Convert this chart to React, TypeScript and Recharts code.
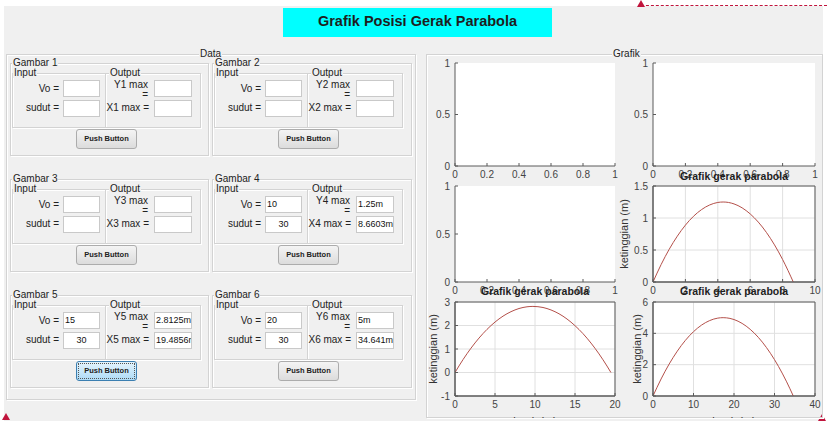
import React from 'react';
import { LineChart, Line, XAxis, YAxis, CartesianGrid, ReferenceArea } from 'recharts';

// ---------- data ----------
const gambarNames = ['Gambar 1', 'Gambar 2', 'Gambar 3', 'Gambar 4', 'Gambar 5', 'Gambar 6'];
const outYLabels = ['Y1 max', 'Y2 max', 'Y3 max', 'Y4 max', 'Y5 max', 'Y6 max'];
const outXLabels = ['X1 max =', 'X2 max =', 'X3 max =', 'X4 max =', 'X5 max =', 'X6 max ='];
const voValues = ['', '', '', '10', '15', '20'];
const sudutValues = ['', '', '', '30', '30', '30'];
const yMaxValues = ['', '', '', '1.25m', '2.8125m', '5m'];
const xMaxValues = ['', '', '', '8.6603m', '19.4856m', '34.641m'];

const emptyXTicks = [0, 0.2, 0.4, 0.6, 0.8, 1];
const emptyYTicks = [0, 0.5, 1];

const traj4X = [0, 0.5, 1, 1.5, 2, 2.5, 3, 3.5, 4, 4.33, 5, 5.5, 6, 6.5, 7, 7.5, 8, 8.66];
const traj4Y = [0, 0.272, 0.511, 0.716, 0.888, 1.027, 1.132, 1.204, 1.243, 1.25, 1.22, 1.159, 1.064, 0.936, 0.775, 0.58, 0.352, 0];
const plot4XTicks = [0, 2, 4, 6, 8, 10];
const plot4YTicks = [0, 0.5, 1, 1.5];

const traj5X = [0, 1, 2, 3, 4, 5, 6, 7, 8, 9, 9.74, 11, 12, 13, 14, 15, 16, 17, 18, 19, 19.49];
const traj5Y = [0, 0.548, 1.036, 1.465, 1.835, 2.146, 2.398, 2.589, 2.723, 2.796, 2.812, 2.766, 2.661, 2.499, 2.276, 1.993, 1.653, 1.252, 0.792, 0.274, 0];
const plot5XTicks = [0, 5, 10, 15, 20];
const plot5YTicks = [-1, 0, 1, 2, 3];

const traj6X = [0, 2, 4, 6, 8, 10, 12, 14, 16, 17.32, 19, 21, 23, 25, 27, 29, 31, 33, 34.64];
const traj6Y = [0, 1.088, 2.043, 2.864, 3.552, 4.107, 4.528, 4.816, 4.971, 5, 4.953, 4.774, 4.462, 4.017, 3.438, 2.726, 1.881, 0.903, 0];
const plot6XTicks = [0, 10, 20, 30, 40];
const plot6YTicks = [0, 2, 4, 6];

// ---------- styles ----------
const FONT = '"Liberation Sans", Arial, sans-serif';
const BG = '#f0f0f0';
const etched: React.CSSProperties = {
  position: 'absolute',
  border: '1px solid #d3d3d3',
  boxShadow: 'inset 1px 1px 0 #ffffff, 1px 1px 0 #ffffff',
  boxSizing: 'border-box',
};
const legendLabel: React.CSSProperties = {
  position: 'absolute',
  background: BG,
  fontSize: 10,
  lineHeight: '11px',
  color: '#222',
  padding: '0 1px',
  whiteSpace: 'nowrap',
};
const editBox: React.CSSProperties = {
  position: 'absolute',
  background: '#fff',
  border: '1px solid #c9c9c9',
  boxSizing: 'border-box',
  fontSize: 9,
  lineHeight: '15px',
  color: '#111',
  paddingLeft: 1,
  overflow: 'hidden',
  whiteSpace: 'nowrap',
};

function Group({ idx, gx, gy }: { idx: number; gx: number; gy: number }) {
  const w = idx % 2 === 0 ? 199 : 200;
  const focused = idx === 4;
  return (
    <div style={{ position: 'absolute', left: gx, top: gy, width: w, height: 93 }}>
      <div style={{ ...etched, left: 0, top: 0, width: w, height: 93 }} />
      <div style={{ ...legendLabel, left: 2, top: -6 }}>{gambarNames[idx]}</div>
      <div style={{ ...etched, left: 2, top: 10, width: 94, height: 55 }} />
      <div style={{ ...etched, left: 95, top: 10, width: 96, height: 55 }} />
      <div style={{ ...legendLabel, left: 3, top: 4 }}>Input</div>
      <div style={{ ...legendLabel, left: 99, top: 4 }}>Output</div>
      <div style={{ position: 'absolute', left: 0, width: 49, top: 20, textAlign: 'right', fontSize: 10, lineHeight: '12px', color: '#222' }}>Vo =</div>
      <div style={{ position: 'absolute', left: 0, width: 49, top: 39, textAlign: 'right', fontSize: 10, lineHeight: '12px', color: '#222' }}>sudut =</div>
      <div style={{ ...editBox, left: 53, top: 17, width: 37, height: 17 }}>{voValues[idx]}</div>
      <div style={{ ...editBox, left: 53, top: 37, width: 37, height: 17, textAlign: 'center', paddingLeft: 0 }}>{sudutValues[idx]}</div>
      <div style={{ position: 'absolute', left: 96, width: 42, top: 16, textAlign: 'right', fontSize: 10, color: '#222' }}>
        <div style={{ height: 11, lineHeight: '11px' }}>{outYLabels[idx]}</div>
        <div style={{ height: 9, lineHeight: '10px' }}>=</div>
      </div>
      <div style={{ position: 'absolute', left: 96, width: 43, top: 39, textAlign: 'right', fontSize: 10, lineHeight: '12px', color: '#222', whiteSpace: 'nowrap' }}>{outXLabels[idx]}</div>
      <div style={{ ...editBox, left: 144, top: 17, width: 38, height: 17 }}>{yMaxValues[idx]}</div>
      <div style={{ ...editBox, left: 144, top: 37, width: 38, height: 17 }}>{xMaxValues[idx]}</div>
      <div
        style={{
          position: 'absolute', left: 66, top: 66, width: 61, height: 20, boxSizing: 'border-box',
          border: focused ? '1px solid #3c7fb1' : '1px solid #acacac', borderRadius: 3,
          background: focused ? 'linear-gradient(#e4f4fd, #aedbf6)' : 'linear-gradient(#f4f4f4, #dcdcdc)',
          fontSize: 7.5, fontWeight: 'bold', color: '#222', textAlign: 'center', lineHeight: '18px',
        }}
      >
        {focused && (
          <div style={{ position: 'absolute', left: 1, top: 1, right: 1, bottom: 1, border: '1px dotted #555' }} />
        )}
        Push Button
      </div>
    </div>
  );
}

type PlotProps = {
  left: number; top: number; w: number; h: number;
  xDomain: number[]; xTicks: number[]; yDomain: number[]; yTicks: number[];
  xs?: number[]; ys?: number[]; grid?: boolean; box?: boolean;
};

function Plot({ left, top, w, h, xDomain, xTicks, yDomain, yTicks, xs, ys, grid, box }: PlotProps) {
  const data = xs && ys ? xs.map((x, i) => ({ x, y: ys[i] })) : [];
  const ML = 34, MT = 4, MR = 10, MB = 18;
  const axisColor = '#5a5a5a';
  return (
    <div style={{ position: 'absolute', left: left - ML, top: top - MT }}>
      <LineChart width={w + ML + MR} height={h + MT + MB} data={data} margin={{ top: MT, right: MR, bottom: 0, left: 0 }}>
        <CartesianGrid fill="#ffffff" horizontal={!!grid} vertical={!!grid} stroke="#e0e0e0" strokeWidth={1} />
        <XAxis
          dataKey="x" type="number" domain={xDomain} ticks={xTicks} interval={0} allowDataOverflow
          height={MB} tickSize={-3} tickMargin={8} stroke={axisColor}
          tick={{ fontSize: 10, fill: '#444', fontFamily: FONT }}
        />
        <YAxis
          type="number" domain={yDomain} ticks={yTicks} interval={0} allowDataOverflow
          width={ML} tickSize={-3} tickMargin={8} stroke={axisColor}
          tick={{ fontSize: 10, fill: '#444', fontFamily: FONT }}
        />
        {box && (
          <ReferenceArea x1={xDomain[0]} x2={xDomain[1]} y1={yDomain[0]} y2={yDomain[1]} fill="none" stroke={axisColor} strokeWidth={1} fillOpacity={0} />
        )}
        {data.length > 0 && (
          <Line dataKey="y" type="monotone" stroke="#b4504a" strokeWidth={1} dot={false} isAnimationActive={false} />
        )}
      </LineChart>
    </div>
  );
}

function Title({ cx, y }: { cx: number; y: number }) {
  return (
    <div style={{ position: 'absolute', left: cx - 70, width: 140, top: y - 7, textAlign: 'center', fontSize: 10.5, fontWeight: 'bold', color: '#1e1e1e', lineHeight: '13px', whiteSpace: 'nowrap' }}>
      Grafik gerak parabola
    </div>
  );
}

function YLabel({ cx, cy }: { cx: number; cy: number }) {
  return (
    <div style={{ position: 'absolute', left: cx - 40, top: cy - 7, width: 80, height: 14, textAlign: 'center', fontSize: 11, lineHeight: '14px', color: '#333', transform: 'rotate(-90deg)', whiteSpace: 'nowrap' }}>
      ketinggian (m)
    </div>
  );
}

function Triangle({ x, y }: { x: number; y: number }) {
  return (
    <svg style={{ position: 'absolute', left: x, top: y }} width={8} height={7}>
      <polygon points="4,0 8,7 0,7" fill="#c0143c" />
    </svg>
  );
}

export default function App() {
  const groupPos = [
    [10, 63], [212, 63], [10, 179], [212, 179], [10, 295], [212, 295],
  ];
  return (
    <div style={{ position: 'absolute', left: 0, top: 0, width: 827, height: 421, background: '#fff', overflow: 'hidden', fontFamily: FONT }}>
      <div style={{ position: 'absolute', left: 4, top: 6, width: 819, height: 415, background: BG }} />
      {/* red dashed line */}
      <div style={{ position: 'absolute', left: 641, top: 5, width: 186, height: 0, borderTop: '1px dashed #c0143c' }} />
      <Triangle x={637} y={0} />
      <Triangle x={2} y={413} />
      <Triangle x={818} y={414} />

      {/* title */}
      <div style={{ position: 'absolute', left: 283, top: 8, width: 269, height: 29, background: '#00ffff', textAlign: 'center', fontSize: 14.5, fontWeight: 'bold', lineHeight: '27px', color: '#1e1e1e' }}>
        Grafik Posisi Gerak Parabola
      </div>

      {/* Data panel */}
      <div style={{ ...etched, left: 6, top: 54, width: 410, height: 346 }} />
      <div style={{ ...legendLabel, left: 199, top: 48 }}>Data</div>
      {groupPos.map((p, i) => (
        <Group key={i} idx={i} gx={p[0]} gy={p[1]} />
      ))}

      {/* Grafik panel */}
      <div style={{ ...etched, left: 426, top: 54, width: 397, height: 364 }} />
      <div style={{ ...legendLabel, left: 612, top: 48 }}>Grafik</div>

      <Plot left={455} top={63} w={160} h={103} xDomain={[0, 1]} xTicks={emptyXTicks} yDomain={[0, 1]} yTicks={emptyYTicks} />
      <Plot left={653} top={63} w={162} h={103} xDomain={[0, 1]} xTicks={emptyXTicks} yDomain={[0, 1]} yTicks={emptyYTicks} />
      <Plot left={455} top={186} w={160} h={96} xDomain={[0, 1]} xTicks={emptyXTicks} yDomain={[0, 1]} yTicks={emptyYTicks} />
      <Title cx={734} y={177} />
      <Plot left={653} top={186} w={162} h={96} xDomain={[0, 10]} xTicks={plot4XTicks} yDomain={[0, 1.5]} yTicks={plot4YTicks} xs={traj4X} ys={traj4Y} grid box />
      <YLabel cx={624} cy={234} />
      <Title cx={535} y={292} />
      <Plot left={455} top={302} w={160} h={94} xDomain={[0, 20]} xTicks={plot5XTicks} yDomain={[-1, 3]} yTicks={plot5YTicks} xs={traj5X} ys={traj5Y} grid box />
      <YLabel cx={433} cy={349} />
      <Title cx={734} y={292} />
      <Plot left={653} top={302} w={162} h={94} xDomain={[0, 40]} xTicks={plot6XTicks} yDomain={[0, 6]} yTicks={plot6YTicks} xs={traj6X} ys={traj6Y} grid box />
      <YLabel cx={637} cy={349} />

      {/* x labels, mostly clipped by the panel bottom */}
      <div style={{ position: 'absolute', left: 427, top: 0, width: 395, height: 418, overflow: 'hidden', pointerEvents: 'none' }}>
        <div style={{ position: 'absolute', left: 535 - 427 - 30, width: 60, top: 415, textAlign: 'center', fontSize: 11, color: '#333' }}>jarak (m)</div>
        <div style={{ position: 'absolute', left: 734 - 427 - 30, width: 60, top: 415, textAlign: 'center', fontSize: 11, color: '#333' }}>jarak (m)</div>
      </div>
    </div>
  );
}
